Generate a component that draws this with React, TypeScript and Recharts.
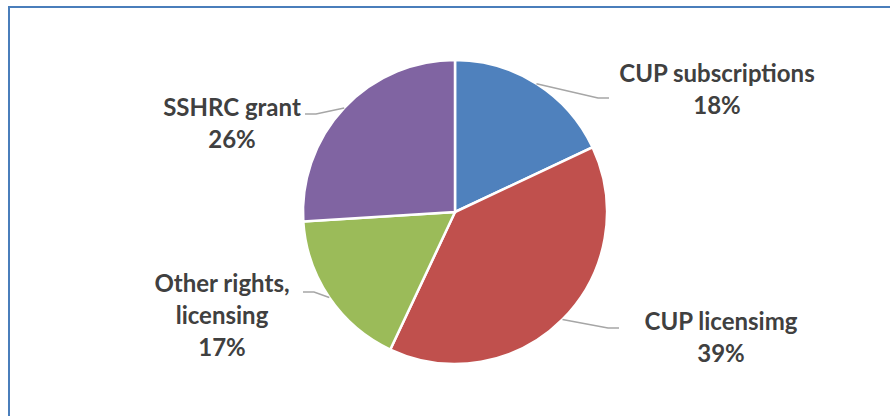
import { PieChart, Pie, Cell } from "recharts";

const names = ["CUP subscriptions", "CUP licensimg", "Other rights, licensing", "SSHRC grant"];
const values = [18, 39, 17, 26];
const labelLines = [["CUP subscriptions"], ["CUP licensimg"], ["Other rights,", "licensing"], ["SSHRC grant"]];
const colors = ["#4F81BD", "#C0504D", "#9BBB59", "#8064A2"];

// label placement relative to pie centre: text centre (tx, ty), leader end (lx, ly), side
const labelLayout = [
  { tx: 262, ty: -124, lx: 154, ly: -114, dir: 1 },
  { tx: 266, ty: 124, lx: 164, ly: 116, dir: 1 },
  { tx: -233, ty: 102, lx: -152, ly: 80, dir: -1 },
  { tx: -223, ty: -90, lx: -150, ly: -98, dir: -1 },
];

const data = names.map((name, i) => ({ name, value: values[i] }));

const RADIAN = Math.PI / 180;
const LINE_H = 32;

function renderLabel(props: any) {
  const { cx, cy, midAngle, outerRadius, index, value } = props;
  const lay = labelLayout[index];
  const sx = cx + outerRadius * Math.cos(-midAngle * RADIAN);
  const sy = cy + outerRadius * Math.sin(-midAngle * RADIAN);
  const ex = cx + lay.lx;
  const ey = cy + lay.ly;
  const mx = ex - lay.dir * 11;
  const lines = [...labelLines[index], `${value}%`];
  const top = cy + lay.ty - ((lines.length - 1) * LINE_H) / 2;
  return (
    <g>
      <polyline
        points={`${sx},${sy} ${mx},${ey} ${ex},${ey}`}
        fill="none"
        stroke="#A6A6A6"
        strokeWidth={1.5}
      />
      <text
        x={cx + lay.tx}
        textAnchor="middle"
        fill="#404040"
        fontFamily="Lato, 'Open Sans', sans-serif"
        fontWeight="bold"
        fontSize={24}
      >
        {lines.map((l, i) => (
          <tspan key={i} x={cx + lay.tx} y={top + i * LINE_H} dominantBaseline="central">
            {l}
          </tspan>
        ))}
      </text>
    </g>
  );
}

export default function App() {
  return (
    <div style={{ position: "fixed", left: 0, top: 0, width: 890, height: 416, background: "#fff", overflow: "hidden" }}>
      <div
        style={{
          position: "absolute",
          left: 8,
          top: 6,
          width: 900,
          height: 420,
          borderTop: "2px solid #4A7EBB",
          borderLeft: "2px solid #4A7EBB",
        }}
      />
      <div style={{ position: "absolute", left: 0, top: 0 }}>
        <PieChart width={890} height={416} margin={{ top: 0, right: 0, bottom: 0, left: 0 }}>
          <Pie
            data={data}
            dataKey="value"
            nameKey="name"
            cx={455}
            cy={212}
            outerRadius={152}
            startAngle={90}
            endAngle={-270}
            stroke="#FFFFFF"
            strokeWidth={2.5}
            label={renderLabel}
            labelLine={false}
            isAnimationActive={false}
          >
            {data.map((d, i) => (
              <Cell key={d.name} fill={colors[i]} />
            ))}
          </Pie>
        </PieChart>
      </div>
    </div>
  );
}
